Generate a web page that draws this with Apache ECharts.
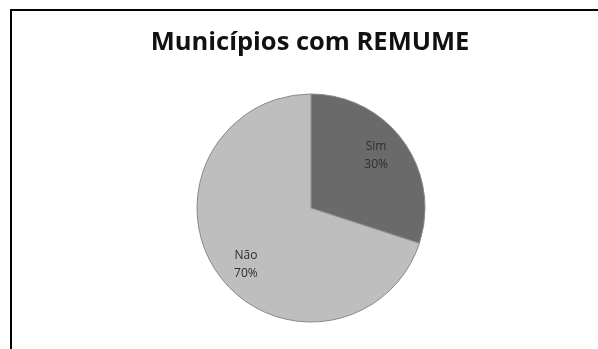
<!DOCTYPE html>
<html>
<head>
<meta charset="utf-8">
<script src="https://cdn.jsdelivr.net/npm/echarts@6/dist/echarts.min.js"></script>
<style>
  html, body { margin: 0; padding: 0; background: #fff; }
  #chart { width: 598px; height: 349px; }
</style>
</head>
<body>
<div id="chart"></div>
<script>
// dados do gráfico
var categorias = ['Sim', 'Não'];
var valores = [30, 70];
var cores = ['#6a6a6a', '#bebebe'];

var myChart = echarts.init(document.getElementById('chart'));

var dados = [];
for (var i = 0; i < categorias.length; i++) {
    dados.push({ name: categorias[i], value: valores[i], itemStyle: { color: cores[i] } });
}

var option = {
    backgroundColor: '#fff',
    animation: false,
    title: {
        text: 'Municípios com REMUME',
        left: 305,
        textAlign: 'center',
        top: 25,
        textStyle: {
            fontFamily: 'Open Sans',
            fontWeight: 'bold',
            fontSize: 25.5,
            color: '#111'
        }
    },
    graphic: [{
        type: 'rect',
        shape: { x: 11, y: 10, width: 700, height: 500 },
        style: { fill: 'none', stroke: '#000', lineWidth: 2 }
    }],
    series: [
        {
            // fatias
            type: 'pie',
            center: [311, 208],
            radius: [0, 114],
            startAngle: 90,
            clockwise: true,
            silent: true,
            label: { show: false },
            labelLine: { show: false },
            itemStyle: { borderColor: '#8a8a8a', borderWidth: 1 },
            data: dados
        },
        {
            // rótulos (anel transparente só para posicionar o texto)
            type: 'pie',
            center: [311, 210],
            radius: [50, 114],
            startAngle: 94,
            clockwise: true,
            silent: true,
            itemStyle: { color: 'rgba(0,0,0,0)' },
            label: {
                show: true,
                position: 'inside',
                formatter: '{b}\n{d}%',
                fontFamily: 'Open Sans',
                fontSize: 12,
                lineHeight: 18,
                color: '#2e2e2e'
            },
            data: dados.map(function (d) { return { name: d.name, value: d.value }; })
        }
    ]
};

myChart.setOption(option);
</script>
</body>
</html>
